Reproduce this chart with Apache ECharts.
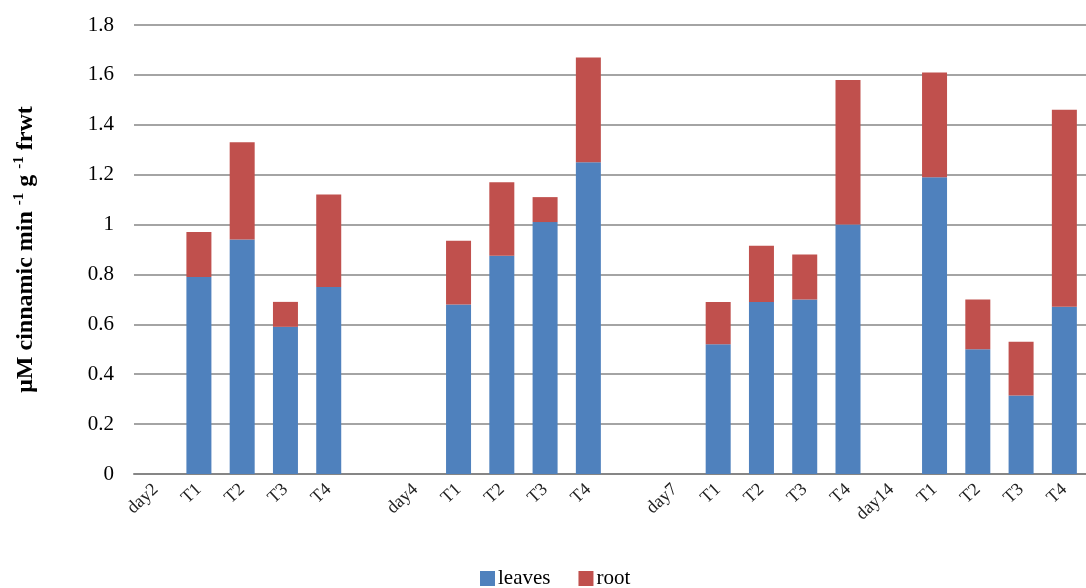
<!DOCTYPE html>
<html>
<head>
<meta charset="utf-8">
<script src="https://cdn.jsdelivr.net/npm/echarts@6/dist/echarts.min.js"></script>
<style>
  html, body { margin: 0; padding: 0; background: #fff; }
  #chart { width: 1086px; height: 588px; }
</style>
</head>
<body>
<div id="chart"></div>
<script>
// Category axis: each day header is followed by its four treatments; '' are spacer slots
const categories = ['day2', 'T1', 'T2', 'T3', 'T4', '',
                    'day4', 'T1', 'T2', 'T3', 'T4', '',
                    'day7', 'T1', 'T2', 'T3', 'T4',
                    'day14', 'T1', 'T2', 'T3', 'T4'];

// Treatment values (T1..T4) for each sampling day
const leaves = {
  day2:  [0.79, 0.94, 0.59, 0.75],
  day4:  [0.68, 0.875, 1.01, 1.25],
  day7:  [0.52, 0.69, 0.70, 1.00],
  day14: [1.19, 0.50, 0.315, 0.67]
};
const root = {
  day2:  [0.18, 0.39, 0.10, 0.37],
  day4:  [0.255, 0.295, 0.10, 0.42],
  day7:  [0.17, 0.225, 0.18, 0.58],
  day14: [0.42, 0.20, 0.215, 0.79]
};

const yTicks = { min: 0, max: 1.8, interval: 0.2 };

// Spread treatment values onto the category slots (day headers and spacers stay empty)
function toSlots(byDay) {
  const out = [];
  let day = null, t = 0;
  categories.forEach(function (c) {
    if (c.indexOf('day') === 0) { day = c; t = 0; out.push(null); }
    else if (c === '') { out.push(null); }
    else { out.push(byDay[day][t++]); }
  });
  return out;
}

const serif = '"Liberation Serif", "DejaVu Serif", serif';
const chart = echarts.init(document.getElementById('chart'));
chart.setOption({
  animation: false,
  grid: { left: 134, top: 25, width: 961, bottom: 114, containLabel: false },
  legend: {
    bottom: -6,
    left: 475,
    itemWidth: 15,
    itemHeight: 15,
    itemGap: 28,
    icon: 'rect',
    textStyle: { fontFamily: serif, fontSize: 21, color: '#000', padding: [0, 0, 0, -2] },
    data: ['leaves', 'root']
  },
  xAxis: {
    type: 'category',
    data: categories,
    axisLine: { lineStyle: { color: '#868686', width: 2 } },
    axisTick: { show: false },
    axisLabel: {
      interval: 0,
      rotate: 43,
      margin: 13,
      fontFamily: serif,
      fontSize: 18,
      color: '#222'
    }
  },
  yAxis: {
    type: 'value',
    min: yTicks.min,
    max: yTicks.max,
    interval: yTicks.interval,
    axisLine: { show: false },
    axisTick: { show: false },
    splitLine: { lineStyle: { color: '#868686', width: 1.5 } },
    axisLabel: {
      margin: 20,
      fontFamily: serif,
      fontSize: 21,
      color: '#000',
      formatter: function (v) { return String(Math.round(v * 10) / 10); }
    },
    name: '{b|μM cinnamic min }{s|-1}{b| g }{s|-1}{b| frwt}',
    nameLocation: 'middle',
    nameRotate: 90,
    nameGap: 96,
    nameTextStyle: {
      rich: {
        b: { fontFamily: serif, fontWeight: 'bold', fontSize: 24, color: '#000', lineHeight: 26, verticalAlign: 'bottom' },
        s: { fontFamily: serif, fontWeight: 'bold', fontSize: 15, color: '#000', lineHeight: 26, verticalAlign: 'top' }
      }
    }
  },
  series: [
    {
      name: 'leaves',
      type: 'bar',
      stack: 'total',
      barWidth: 25,
      itemStyle: { color: '#4F81BD' },
      data: toSlots(leaves)
    },
    {
      name: 'root',
      type: 'bar',
      stack: 'total',
      barWidth: 25,
      itemStyle: { color: '#C0504D' },
      data: toSlots(root)
    }
  ]
});
</script>
</body>
</html>
